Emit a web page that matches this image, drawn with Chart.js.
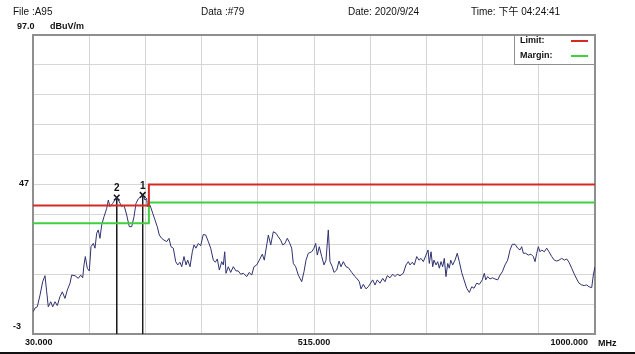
<!DOCTYPE html>
<html>
<head>
<meta charset="utf-8">
<script src="https://cdn.jsdelivr.net/npm/chart.js@4.4.0/dist/chart.umd.min.js"></script>
<style>
html, body { margin: 0; padding: 0; background: #fff; }
#wrap { position: relative; width: 635px; height: 354px; overflow: hidden;
        font-family: Arial, "Liberation Sans", "Noto Sans CJK SC", sans-serif; color: #111; }
#wrap canvas { position: absolute; left: 0; top: 0; }
.t { position: absolute; white-space: nowrap; font-size: 10px; line-height: 12px; }
.b { font-weight: bold; font-size: 9px; }
#bar { position: absolute; left: 0; top: 352px; width: 635px; height: 2px; background: #111; }
</style>
</head>
<body>
<div id="wrap">
    <canvas id="c" width="635" height="352"></canvas>
    <div class="t" style="left:13px;top:6px">File :A95</div>
    <div class="t" style="left:201px;top:6px">Data :#79</div>
    <div class="t" style="left:348px;top:6px">Date: 2020/9/24</div>
    <div class="t" style="left:471px;top:6px">Time: 下午 04:24:41</div>
    <div class="t b" style="left:17px;top:20px">97.0</div>
    <div class="t b" style="left:50px;top:20px">dBuV/m</div>
    <div class="t b" style="left:598px;top:337px">MHz</div>
    <div id="bar"></div>
</div>
<script>
// measured trace, MHz / dBuV/m
const traceFreq = [30.5, 33.5, 37.4, 42.1, 46.7, 50.7, 53.6, 56.4, 60.6, 64.0, 68.0, 71.9, 76.6, 80.6, 85.2, 89.2,
    93.9, 96.8, 102.5, 108.2, 112.3, 115.8, 118.0, 120.3, 123.7, 127.2, 130.1, 134.1, 137.0, 139.9, 142.7, 145.6,
    148.6, 152.5, 157.2, 160.0, 162.9, 167.6, 171.5, 174.5, 179.0, 183.1, 187.1, 191.7, 196.2, 200.4, 204.3, 207.8,
    211.7, 215.9, 219.3, 223.3, 226.2, 227.3, 232.0, 236.6, 240.6, 244.5, 248.0, 252.1, 256.1, 260.8, 264.7, 268.2,
    272.2, 276.3, 279.8, 283.7, 286.7, 290.6, 294.1, 297.0, 301.0, 305.0, 307.9, 311.3, 315.3, 319.4, 323.9, 328.1,
    332.6, 336.7, 341.2, 344.7, 348.1, 351.6, 355.7, 358.5, 360.9, 363.1, 367.1, 371.2, 375.7, 380.4, 384.3, 388.5,
    393.0, 398.9, 403.3, 407.5, 411.4, 416.1, 420.6, 425.8, 429.2, 433.4, 436.2, 440.3, 444.8, 449.4, 453.4, 457.5,
    461.0, 464.9, 468.9, 472.4, 476.5, 479.3, 483.4, 487.9, 493.8, 497.7, 501.2, 505.2, 511.0, 515.0, 517.9, 520.7,
    524.1, 528.3, 532.3, 535.7, 539.7, 542.6, 546.6, 549.5, 554.2, 558.2, 561.6, 565.6, 570.2, 574.2, 580.1, 585.8,
    589.7, 593.2, 596.1, 600.1, 604.8, 608.7, 616.3, 620.3, 624.3, 628.9, 633.6, 637.5, 641.5, 646.2, 650.8, 654.8,
    658.8, 663.4, 669.1, 673.8, 677.8, 680.7, 684.7, 688.1, 692.3, 696.2, 699.7, 703.7, 708.3, 711.8, 714.0, 717.0,
    719.9, 722.1, 725.6, 728.5, 731.3, 734.2, 737.1, 739.9, 742.8, 745.8, 748.5, 751.0, 754.4, 758.4, 762.3, 765.8,
    769.9, 773.9, 778.6, 783.1, 787.2, 791.2, 795.8, 800.3, 805.5, 809.0, 811.4, 814.8, 818.8, 822.8, 827.4, 832.1,
    836.0, 840.0, 844.7, 849.3, 853.3, 857.3, 861.9, 866.6, 870.6, 873.5, 876.3, 880.4, 884.9, 889.5, 893.5, 896.5,
    899.4, 902.2, 905.1, 908.0, 912.5, 916.7, 920.6, 925.3, 929.8, 933.9, 937.9, 942.5, 947.0, 951.2, 955.1, 959.8,
    964.3, 968.4, 972.4, 977.1, 981.5, 985.7, 989.7, 994.3, 997.1, 1000];
const traceLevel = [4.5, 5.7, 6.1, 10.0, 14.5, 16.5, 11.1, 6.1, 7.8, 6.1, 7.8, 6.5, 9.5, 11.1, 8.9, 11.7,
    14.0, 16.7, 16.5, 15.6, 16.7, 15.8, 20.1, 22.9, 19.0, 18.1, 26.2, 27.3, 25.7, 30.7, 31.8, 29.0,
    33.5, 36.2, 39.0, 41.8, 39.6, 40.7, 41.8, 42.6, 41.2, 39.6, 40.1, 36.8, 32.9, 32.9, 36.2, 40.7,
    42.2, 42.9, 43.5, 41.8, 42.4, 39.6, 40.1, 37.4, 35.1, 32.9, 30.1, 29.0, 28.4, 27.9, 29.0, 26.2,
    25.7, 21.2, 20.1, 21.0, 19.5, 22.9, 20.1, 21.7, 19.5, 24.5, 26.8, 25.7, 27.3, 26.5, 30.3, 30.1,
    27.9, 25.7, 21.7, 21.0, 22.1, 18.4, 21.2, 20.1, 24.5, 17.3, 19.5, 17.6, 19.5, 18.1, 18.1, 17.0,
    17.3, 16.2, 17.6, 16.7, 19.5, 20.1, 21.7, 23.7, 21.7, 26.8, 30.1, 26.8, 31.2, 30.7, 29.5, 28.4,
    26.8, 27.3, 29.0, 27.7, 25.7, 20.6, 19.5, 16.7, 14.5, 17.8, 21.7, 24.0, 24.5, 25.7, 27.3, 23.4,
    26.2, 22.9, 20.1, 21.7, 31.8, 21.2, 19.5, 17.6, 18.4, 21.4, 19.5, 21.2, 19.5, 19.2, 17.6, 16.2,
    15.4, 14.5, 12.1, 13.6, 12.1, 12.8, 15.1, 13.4, 15.1, 14.0, 15.6, 14.5, 16.5, 15.8, 17.0, 16.2,
    17.0, 16.5, 17.3, 20.1, 21.2, 20.1, 21.0, 20.1, 22.9, 21.7, 22.3, 21.2, 23.4, 25.1, 20.6, 24.5,
    19.5, 21.7, 20.1, 21.2, 19.0, 21.2, 19.5, 22.3, 16.2, 20.6, 19.0, 21.7, 20.1, 21.7, 24.0, 21.2,
    17.6, 15.1, 12.3, 10.9, 12.8, 12.3, 14.0, 13.6, 15.1, 17.3, 15.1, 16.2, 15.4, 15.8, 15.4, 15.1,
    16.7, 17.8, 20.1, 21.7, 25.1, 27.0, 27.0, 25.7, 25.1, 26.2, 24.0, 24.0, 23.4, 23.7, 22.9, 21.2,
    24.0, 26.2, 24.5, 25.1, 24.5, 25.7, 24.5, 22.9, 21.7, 21.4, 21.7, 22.3, 21.7, 22.1, 21.0, 19.0,
    17.0, 15.4, 14.0, 13.4, 13.2, 13.4, 12.8, 12.5, 16.7, 19.5];

const limitFreq = [30, 230, 230, 1000];
const limitLevel = [40, 40, 47, 47];
const marginLevel = [34, 34, 41, 41];

const markerName = ['1', '2'];
const markerFreq = [219.3, 174.5];
const markerLevel = [43.5, 42.6];

const xTicks = [30, 127, 224, 321, 418, 515, 612, 709, 806, 903, 1000];
const xLabels = [30, 515, 1000];
const yTicks = [-3, 7, 17, 27, 37, 47, 57, 67, 77, 87, 97];
const yLabels = [-3, 47];

const FONT = 'Arial, "Liberation Sans", sans-serif';

const toXY = (xs, ys) => xs.map((x, i) => ({x: x, y: ys[i]}));

let datasets = [
    {label: 'Limit:', data: toXY(limitFreq, limitLevel), borderColor: '#d42a22', borderWidth: 2, showLegend: true},
    {label: 'Margin:', data: toXY(limitFreq, marginLevel), borderColor: '#3fd040', borderWidth: 2, showLegend: true},
    {label: 'Trace', data: toXY(traceFreq, traceLevel), borderColor: '#2f3270', borderWidth: 1}
];
markerFreq.forEach((f, i) => {
    datasets.push({
        label: 'Marker ' + markerName[i],
        data: [{x: f, y: markerLevel[i]}, {x: f, y: yTicks[0]}],
        borderColor: '#1a1a1a',
        borderWidth: 1,
        pointStyle: 'crossRot',
        pointRadius: [4, 0],
        pointBorderColor: '#111',
        pointBorderWidth: 1.5,
        markerName: markerName[i]
    });
});
datasets.forEach(d => {
    d.fill = false;
    d.tension = 0;
    if (d.pointRadius === undefined) d.pointRadius = 0;
});

const framePlugin = {
    id: 'frame',
    beforeDatasetsDraw(chart) {
        const {ctx, chartArea: a} = chart;
        ctx.save();
        ctx.strokeStyle = '#8f8f8f';
        ctx.lineWidth = 2;
        ctx.strokeRect(a.left, a.top, a.right - a.left, a.bottom - a.top);
        ctx.restore();
    }
};

// axis labels sit a bit off their ticks in the analyser printout
const axisLabels = {
    id: 'axisLabels',
    afterDraw(chart) {
        const {ctx, chartArea: a, scales: {x, y}} = chart;
        ctx.save();
        ctx.font = 'bold 9px ' + FONT;
        ctx.fillStyle = '#111';
        ctx.textBaseline = 'middle';
        xLabels.forEach((v, i) => {
            const last = i === xLabels.length - 1;
            ctx.textAlign = i === 0 ? 'left' : (last ? 'right' : 'center');
            const shift = i === 0 ? -8 : (last ? -7 : 0);
            ctx.fillText(v.toFixed(3), x.getPixelForValue(v) + shift, a.bottom + 9);
        });
        ctx.textAlign = 'right';
        yLabels.forEach(v => {
            const bottom = v === yTicks[0];
            ctx.fillText(String(v), a.left - (bottom ? 12 : 4), y.getPixelForValue(v) - (bottom ? 7 : 1));
        });
        ctx.restore();
    }
};

const markerPlugin = {
    id: 'markerNames',
    afterDatasetsDraw(chart) {
        const {ctx, scales} = chart;
        ctx.save();
        ctx.font = 'bold 10px ' + FONT;
        ctx.fillStyle = '#111';
        ctx.textAlign = 'center';
        ctx.textBaseline = 'middle';
        chart.data.datasets.forEach(d => {
            if (!d.markerName) return;
            const px = scales.x.getPixelForValue(d.data[0].x);
            const py = scales.y.getPixelForValue(d.data[0].y);
            ctx.fillText(d.markerName, px, py - 9);
        });
        ctx.restore();
    }
};

const boxLegend = {
    id: 'boxLegend',
    afterDraw(chart) {
        const {ctx, chartArea: a} = chart;
        const w = 81, h = 29;
        const x0 = a.right - w, y0 = a.top;
        ctx.save();
        ctx.fillStyle = '#fff';
        ctx.fillRect(x0, y0, w, h);
        ctx.strokeStyle = '#8f8f8f';
        ctx.lineWidth = 1;
        ctx.strokeRect(x0 + 0.5, y0 + 0.5, w - 1, h);
        ctx.font = 'bold 9px ' + FONT;
        ctx.textBaseline = 'middle';
        chart.data.datasets.filter(d => d.showLegend).forEach((d, i) => {
            const y = y0 + 6 + i * 15;
            ctx.fillStyle = '#111';
            ctx.fillText(d.label, x0 + 6, y);
            ctx.strokeStyle = d.borderColor;
            ctx.lineWidth = 2;
            ctx.beginPath();
            ctx.moveTo(x0 + 57, y);
            ctx.lineTo(x0 + 74, y);
            ctx.stroke();
        });
        ctx.restore();
    }
};

new Chart(document.getElementById('c'), {
    type: 'line',
    data: {datasets: datasets},
    options: {
        responsive: false,
        animation: false,
        layout: {padding: {top: 35, right: 40, left: 0, bottom: 0}},
        plugins: {legend: {display: false}, tooltip: {enabled: false}},
        scales: {
            x: {
                type: 'linear',
                min: 30,
                max: 1000,
                afterFit: s => { s.height = 18; },
                afterBuildTicks: s => { s.ticks = xTicks.map(v => ({value: v})); },
                grid: {color: '#d6d6d6', lineWidth: 1, drawTicks: false},
                border: {display: false},
                ticks: {display: false, autoSkip: false}
            },
            y: {
                min: -3,
                max: 97,
                afterFit: s => { s.width = 33; },
                afterBuildTicks: s => { s.ticks = yTicks.map(v => ({value: v})); },
                grid: {color: '#d6d6d6', lineWidth: 1, drawTicks: false},
                border: {display: false},
                ticks: {display: false, autoSkip: false}
            }
        }
    },
    plugins: [framePlugin, markerPlugin, boxLegend, axisLabels]
});
</script>
</body>
</html>
